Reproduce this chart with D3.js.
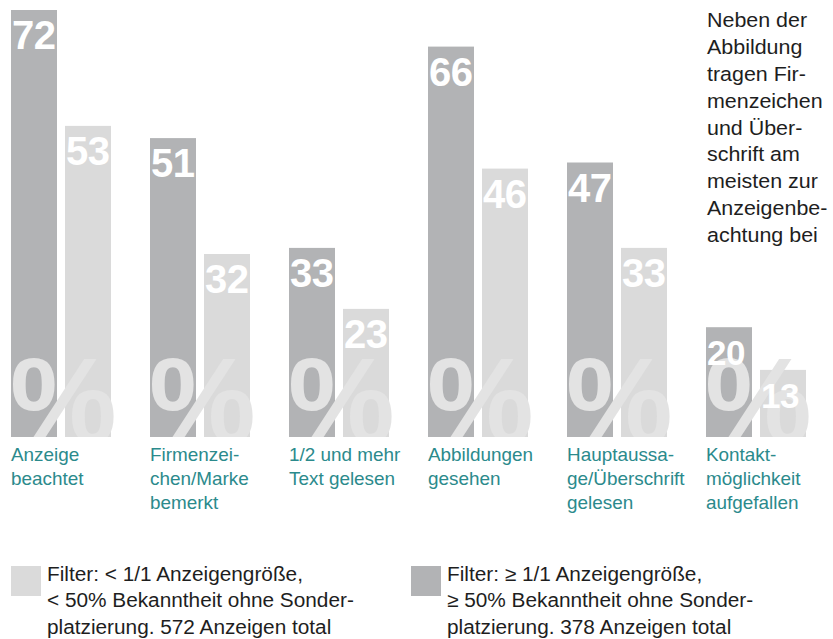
<!DOCTYPE html>
<html>
<head>
<meta charset="utf-8">
<script src="https://cdn.jsdelivr.net/npm/d3@7"></script>
<style>
  html, body { margin: 0; padding: 0; background: #fff; }
  svg { display: block; }
</style>
</head>
<body>
<svg id="chart" width="833" height="639"></svg>
<script>
// ---------- data ----------
const categories = [
  ["Anzeige", "beachtet"],
  ["Firmenzei-", "chen/Marke", "bemerkt"],
  ["1/2 und mehr", "Text gelesen"],
  ["Abbildungen", "gesehen"],
  ["Hauptaussa-", "ge/Überschrift", "gelesen"],
  ["Kontakt-", "möglichkeit", "aufgefallen"]
];
const seriesNames = ["≥ 1/1", "< 1/1"];
const valuesLarge = [72, 51, 33, 66, 47, 20];   // ≥ 1/1 Anzeigengröße (dark)
const valuesSmall = [53, 32, 23, 46, 33, 13];   // < 1/1 Anzeigengröße (light)
const annotationLines = ["Neben der", "Abbildung", "tragen Fir-", "menzeichen",
  "und Über-", "schrift am", "meisten zur", "Anzeigenbe-", "achtung bei"];
const legendSmall = ["Filter: < 1/1 Anzeigengröße,", "< 50% Bekanntheit ohne Sonder-", "platzierung. 572 Anzeigen total"];
const legendLarge = ["Filter: ≥ 1/1 Anzeigengröße,", "≥ 50% Bekanntheit ohne Sonder-", "platzierung. 378 Anzeigen total"];

// ---------- styles ----------
const DARK = "#b2b3b5", LIGHT = "#dadada", PCT = "#e3e3e3", TEAL = "#2b8a8c", TEXT = "#1e1e1e";
const FONT = "'Liberation Sans', Arial, Helvetica, sans-serif";

const svg = d3.select("#chart");
const baseline = 437;

const groupIdx = categories.map((c, i) => i);
const x0 = d3.scaleBand().domain(groupIdx).range([11, 806]).paddingInner(39 / 139).paddingOuter(0);
const x1 = d3.scaleBand().domain(seriesNames).range([0, x0.bandwidth()]).paddingInner(8 / 54).paddingOuter(0);
const y = d3.scaleLinear().domain([2, 72]).range([baseline, 10]);

const data = groupIdx.map(i => ({
  i,
  bars: [
    { s: seriesNames[0], v: valuesLarge[i], color: DARK },
    { s: seriesNames[1], v: valuesSmall[i], color: LIGHT }
  ]
}));

svg.append("defs").append("clipPath").attr("id", "clipBase")
  .append("rect").attr("x", 0).attr("y", 0).attr("width", 833).attr("height", baseline);

const groups = svg.selectAll("g.grp").data(data).join("g")
  .attr("class", "grp")
  .attr("transform", d => `translate(${x0(d.i)},0)`);

// bars
groups.selectAll("rect.bar").data(d => d.bars).join("rect")
  .attr("class", "bar")
  .attr("x", b => x1(b.s))
  .attr("y", b => y(b.v))
  .attr("width", x1.bandwidth())
  .attr("height", b => baseline - y(b.v))
  .attr("fill", b => b.color);

// big % watermark (cut at the baseline)
const pctLayer = svg.append("g").attr("clip-path", "url(#clipBase)");
pctLayer.selectAll("text").data(data).join("text")
  .attr("x", d => x0(d.i) - 1)
  .attr("y", baseline + 5)
  .attr("font-family", FONT)
  .attr("font-weight", "bold")
  .attr("font-size", 120)
  .attr("fill", PCT)
  .text("%");

// value labels
const labelLayer = svg.append("g");
data.forEach(d => {
  d.bars.forEach(b => {
    const h = baseline - y(b.v);
    const small = h < 120;
    labelLayer.append("text")
      .attr("x", x0(d.i) + x1(b.s) + 1)
      .attr("y", y(b.v) + (small ? 38 : 39))
      .attr("font-family", FONT)
      .attr("font-weight", "bold")
      .attr("font-size", small ? 35 : 40)
      .attr("letter-spacing", -0.5)
      .attr("fill", "#fff")
      .text(b.v);
  });
});

// category labels
groups.each(function(d) {
  const t = d3.select(this).append("text")
    .attr("transform", "scale(1.08,1)")
    .attr("font-family", FONT)
    .attr("font-size", 17.5)
    .attr("fill", TEAL);
  categories[d.i].forEach((line, k) => {
    t.append("tspan").attr("x", 0).attr("y", 461 + k * 24).text(line);
  });
});

// annotation
const ann = svg.append("text")
  .attr("transform", "translate(707,0) scale(1.1,1)")
  .attr("font-family", FONT).attr("font-size", 19.5).attr("fill", TEXT);
annotationLines.forEach((line, k) => {
  ann.append("tspan").attr("x", 0).attr("y", 27 + k * 26.9).text(line);
});

// legend
function legend(x, color, lines) {
  const g = svg.append("g").attr("transform", `translate(${x},0)`);
  g.append("rect").attr("x", 0).attr("y", 566).attr("width", 30).attr("height", 30).attr("fill", color);
  const t = g.append("text")
    .attr("transform", "translate(36,0) scale(1.04,1)")
    .attr("font-family", FONT).attr("font-size", 20).attr("fill", TEXT);
  lines.forEach((line, k) => {
    t.append("tspan").attr("x", 0).attr("y", 581 + k * 26.5).text(line);
  });
}
legend(11, LIGHT, legendSmall);
legend(411, DARK, legendLarge);
</script>
</body>
</html>
